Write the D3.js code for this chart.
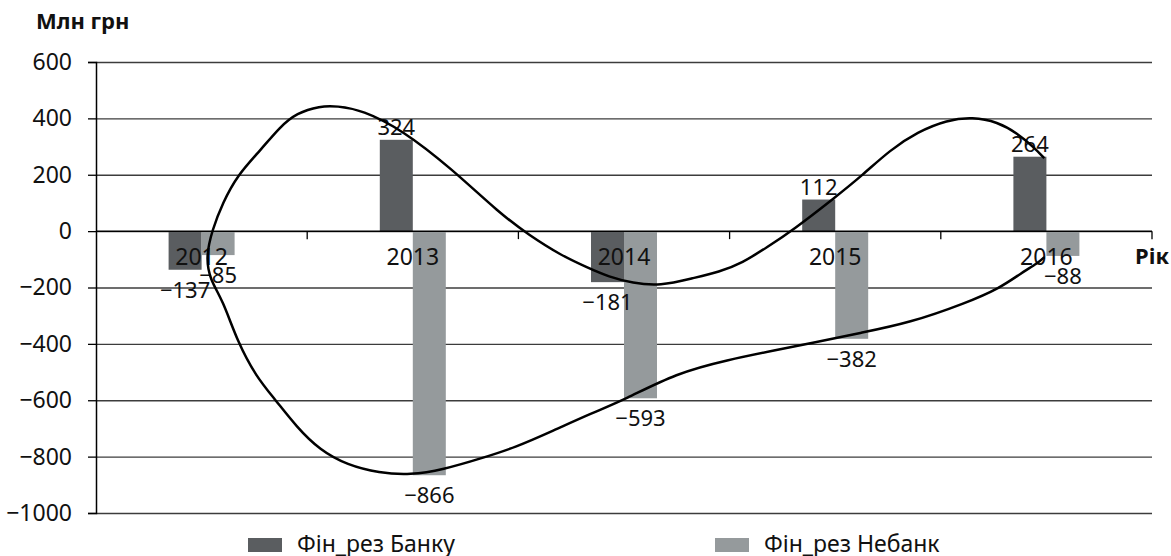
<!DOCTYPE html>
<html>
<head>
<meta charset="utf-8">
<script src="https://cdn.jsdelivr.net/npm/d3@7"></script>
<style>
  body { margin: 0; background: #fff; }
  svg { display: block; font-family: "Noto Sans", sans-serif; }
</style>
</head>
<body>
<div id="chart"></div>
<script>
var years = ["2012", "2013", "2014", "2015", "2016"];
var bankValues = [-137, 324, -181, 112, 264];
var nonbankValues = [-85, -866, -593, -382, -88];
var yTicks = [-1000, -800, -600, -400, -200, 0, 200, 400, 600];
var seriesNames = ["Фін_рез Банку", "Фін_рез Небанк"];

// freehand loop drawn over the bars (year position, value)
var loopYears = [2015.99, 2015.94, 2015.86, 2015.77, 2015.65, 2015.53, 2015.39, 2015.26, 2015.13, 2014.99,
  2014.80, 2014.68, 2014.56, 2014.45, 2014.33, 2014.17, 2014.04, 2013.93, 2013.82, 2013.70,
  2013.55, 2013.41, 2013.18, 2012.95, 2012.76, 2012.64, 2012.56, 2012.45, 2012.37, 2012.28,
  2012.17, 2012.10, 2012.05, 2012.02, 2012.04, 2012.10, 2012.17, 2012.26, 2012.35, 2012.45,
  2012.56, 2012.69, 2012.84, 2012.99, 2013.14, 2013.33, 2013.49, 2013.65, 2013.85, 2014.00,
  2014.25, 2014.49, 2014.72, 2014.89, 2015.12, 2015.35, 2015.62, 2015.78, 2015.88, 2015.96, 2015.99];
var loopValues = [259, 298, 348, 387, 405, 394, 352, 288, 199, 114,
  4, -56, -113, -145, -166, -195, -184, -163, -127, -85,
  -14, 64, 224, 359, 430, 444, 444, 419, 369, 288,
  199, 100, 4, -92, -173, -244, -393, -518, -599, -695,
  -777, -830, -858, -865, -847, -805, -766, -713, -645, -599,
  -503, -457, -422, -397, -361, -326, -255, -202, -149, -113, -92];

var width = 1171, height = 556;
var colors = ["#5a5d60", "#959a9c"];

var svg = d3.select("#chart").append("svg")
  .attr("width", width)
  .attr("height", height);

var x0 = d3.scaleBand()
  .domain(years)
  .range([96, 1152])
  .paddingInner(0.6875)
  .paddingOuter(0.34375);

var x1 = d3.scaleBand()
  .domain([0, 1])
  .range([0, x0.bandwidth()]);

var y = d3.scaleLinear()
  .domain([-1000, 600])
  .range([513, 62]);

var xc = d3.scaleLinear()
  .domain([2012, 2016])
  .range([x0("2012") + x0.bandwidth() / 2, x0("2016") + x0.bandwidth() / 2]);

var fmt = d3.format("d");

// gridlines
svg.append("g")
  .attr("class", "grid")
  .attr("transform", "translate(96,0)")
  .call(d3.axisLeft(y).tickValues(yTicks).tickSize(-(1152 - 96)).tickFormat(""))
  .call(function(g) { g.select(".domain").remove(); })
  .selectAll("line")
  .attr("stroke", "#3c3c3c")
  .attr("stroke-width", 1.3);

// y axis
var yAxis = svg.append("g")
  .attr("transform", "translate(96,0)")
  .call(d3.axisLeft(y).tickValues(yTicks).tickSize(8).tickPadding(16).tickFormat(fmt));
yAxis.select(".domain").attr("stroke", "#000").attr("stroke-width", 1.5);
yAxis.selectAll(".tick line").attr("stroke", "#000").attr("stroke-width", 1.3);
yAxis.selectAll("text")
  .attr("font-size", 23)
  .attr("font-family", "Noto Sans")
  .attr("fill", "#111");

// bars
var rows = years.map(function(yr, i) { return { year: yr, values: [bankValues[i], nonbankValues[i]] }; });

var groups = svg.selectAll(".group")
  .data(rows)
  .enter().append("g")
  .attr("class", "group")
  .attr("transform", function(d) { return "translate(" + x0(d.year) + ",0)"; });

groups.selectAll("rect")
  .data(function(d) { return d.values.map(function(v, k) { return { k: k, v: v }; }); })
  .enter().append("rect")
  .attr("x", function(d) { return x1(d.k); })
  .attr("width", x1.bandwidth())
  .attr("y", function(d) { return d.v >= 0 ? y(d.v) : y(0); })
  .attr("height", function(d) { return Math.abs(y(d.v) - y(0)); })
  .style("fill", function(d) { return colors[d.k]; });

// zero line with category ticks
svg.append("line")
  .attr("x1", 96).attr("x2", 1152)
  .attr("y1", y(0)).attr("y2", y(0))
  .attr("stroke", "#000").attr("stroke-width", 1.5);

svg.selectAll(".cattick")
  .data(d3.range(1, years.length + 1))
  .enter().append("line")
  .attr("x1", function(i) { return 96 + i * x0.step(); })
  .attr("x2", function(i) { return 96 + i * x0.step(); })
  .attr("y1", y(0))
  .attr("y2", y(0) + 8)
  .attr("stroke", "#000").attr("stroke-width", 1.3);

// category labels
svg.selectAll(".cat")
  .data(years)
  .enter().append("text")
  .attr("x", function(d) { return x0(d) + x0.bandwidth() / 2; })
  .attr("y", y(0) + 34)
  .attr("text-anchor", "middle")
  .attr("font-size", 23)
  .attr("fill", "#111")
  .text(function(d) { return d; });

// value labels
groups.selectAll(".val")
  .data(function(d) { return d.values.map(function(v, k) { return { k: k, v: v }; }); })
  .enter().append("text")
  .attr("x", function(d) { return x1(d.k) + x1.bandwidth() / 2; })
  .attr("y", function(d) { return d.v >= 0 ? y(d.v) - 5 : y(d.v) + 28; })
  .attr("text-anchor", "middle")
  .attr("font-size", 22)
  .attr("fill", "#111")
  .text(function(d) { return fmt(d.v); });

// loop curve
var loop = d3.line()
  .x(function(d, i) { return xc(loopYears[i]); })
  .y(function(d) { return y(d); })
  .curve(d3.curveBasis);

svg.append("path")
  .attr("d", loop(loopValues))
  .attr("fill", "none")
  .attr("stroke", "#000")
  .attr("stroke-width", 2.5);

// titles
svg.append("text")
  .attr("x", 36).attr("y", 29)
  .attr("font-size", 22)
  .attr("font-weight", "bold")
  .attr("fill", "#111")
  .text("Млн грн");

svg.append("text")
  .attr("x", 1135).attr("y", y(0) + 33)
  .attr("font-size", 22)
  .attr("font-weight", "bold")
  .attr("fill", "#111")
  .text("Рік");

// legend
var legendX = [248, 715];
var legend = svg.selectAll(".legend")
  .data(seriesNames)
  .enter().append("g")
  .attr("transform", function(d, i) { return "translate(" + legendX[i] + ",538)"; });

legend.append("rect")
  .attr("width", 34).attr("height", 14)
  .style("fill", function(d, i) { return colors[i]; });

legend.append("text")
  .attr("x", 49).attr("y", 14)
  .attr("font-size", 23)
  .attr("fill", "#111")
  .text(function(d) { return d; });
</script>
</body>
</html>
